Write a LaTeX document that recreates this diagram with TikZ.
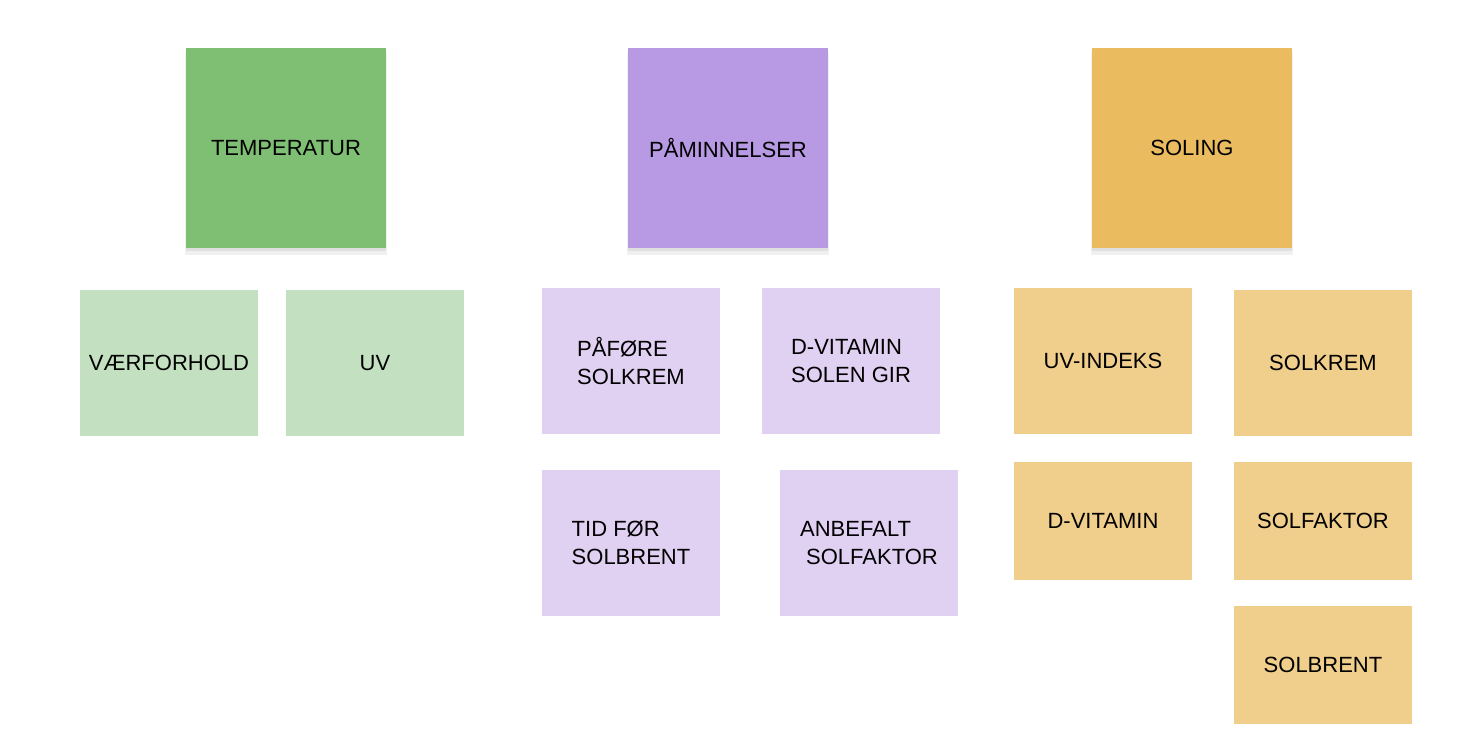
\documentclass[tikz,border=0pt]{standalone}
\usepackage{fontspec}
\setmainfont{Liberation Sans}
\usetikzlibrary{shadows}

\definecolor{tempgreen}{RGB}{127,191,116}
\definecolor{tempgreenlight}{RGB}{195,225,193}
\definecolor{reminderpurple}{RGB}{184,153,228}
\definecolor{reminderpurplelight}{RGB}{224,208,242}
\definecolor{sunorange}{RGB}{235,187,96}
\definecolor{sunorangelight}{RGB}{240,206,140}

\tikzset{
  note/.style={rectangle, inner sep=0pt, align=left, text=black,
    font=\fontsize{22}{28}\selectfont},
  header/.style={note, minimum width=200, minimum height=200,
    drop shadow={opacity=0.12, shadow xshift=0pt, shadow yshift=-6pt,
      shadow scale=1.01},
    drop shadow={opacity=0.15, shadow xshift=0pt, shadow yshift=-3pt}},
  sub/.style={note, minimum width=178, minimum height=146},
  subshort/.style={note, minimum width=178, minimum height=118}
}

\begin{document}
\begin{tikzpicture}[x=1pt,y=1pt]
  \useasboundingbox (0,0) rectangle (1462,-740);

  % headers
  \node[header, fill=tempgreen] (temp) at (286,-148) {TEMPERATUR};
  \node[header, fill=reminderpurple] (remind) at (728,-148) {PÅMINNELSER};
  \node[header, fill=sunorange] (sun) at (1192,-148) {SOLING};

  % temperatur
  \node[sub, fill=tempgreenlight] (weather) at (169,-363) {VÆRFORHOLD};
  \node[sub, fill=tempgreenlight] (uv) at (375,-363) {UV};

  % paaminnelser
  \node[sub, fill=reminderpurplelight] (apply) at (631,-361) {PÅFØRE\\SOLKREM};
  \node[sub, fill=reminderpurplelight] (vitd) at (851,-361) {D-VITAMIN\\SOLEN GIR};
  \node[sub, fill=reminderpurplelight] (burntime) at (631,-543) {TID FØR\\SOLBRENT};
  \node[sub, fill=reminderpurplelight] (advice) at (869,-543)
    {ANBEFALT\\\hspace*{6pt}SOLFAKTOR};

  % soling
  \node[sub, fill=sunorangelight] (uvindex) at (1103,-361) {UV-INDEKS};
  \node[sub, fill=sunorangelight] (cream) at (1323,-363) {SOLKREM};
  \node[subshort, fill=sunorangelight] (sunvitd) at (1103,-521) {D-VITAMIN};
  \node[subshort, fill=sunorangelight] (factor) at (1323,-521) {SOLFAKTOR};
  \node[subshort, fill=sunorangelight] (burn) at (1323,-665) {SOLBRENT};
\end{tikzpicture}
\end{document}
